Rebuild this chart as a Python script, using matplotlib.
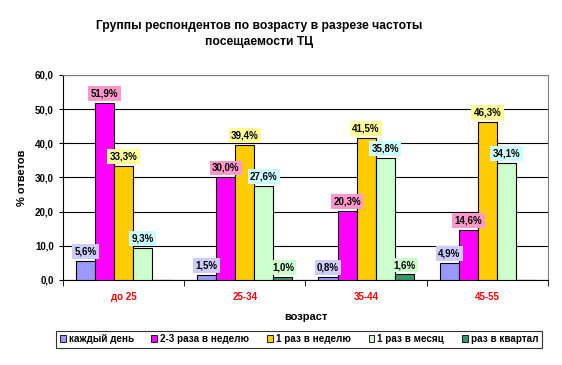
import numpy as np
import matplotlib.pyplot as plt
from matplotlib.patches import Patch

plt.rcParams['font.family'] = ['Liberation Sans', 'DejaVu Sans']

# данные
groups = ['до 25', '25-34', '35-44', '45-55']
series = ['каждый день', '2-3 раза в неделю', '1 раз в неделю', '1 раз в месяц', 'раз в квартал']
daily = [5.6, 1.5, 0.8, 4.9]
twice_week = [51.9, 30.0, 20.3, 14.6]
once_week = [33.3, 39.4, 41.5, 46.3]
once_month = [9.3, 27.6, 35.8, 34.1]
quarter = [None, 1.0, 1.6, None]

values = [daily, twice_week, once_week, once_month, quarter]
bar_colors = ['#9999FF', '#FF00FF', '#FFCC00', '#CCFFCC', '#339966']
label_bg = ['#CCCCFF', '#FF99CC', '#FFFF99', '#CCFFFF', '#CCFFCC']

fig = plt.figure(figsize=(5.62, 3.65), dpi=100)
ax = fig.add_axes([0.112, 0.233, 0.863, 0.562])

x = np.arange(len(groups))
w = 0.157
for i, vals in enumerate(values):
    pos = x + (i - 2) * w
    v = [0 if a is None else a for a in vals]
    ax.bar(pos, v, w, color=bar_colors[i], edgecolor='black', linewidth=0.8, zorder=3)
    for p, a in zip(pos, vals):
        if a is None:
            continue
        ax.text(p, a + 1.3, f'{a:.1f}%'.replace('.', ','), ha='center', va='bottom',
                fontsize=7, fontweight='bold', zorder=4,
                bbox=dict(boxstyle='square,pad=0.25', fc=label_bg[i], ec='none'))

ax.set_xlim(-0.5, len(groups) - 0.5)
ax.set_ylim(0, 60)
ax.set_yticks(np.arange(0, 61, 10))
ax.set_yticklabels([f'{t:.1f}'.replace('.', ',') for t in np.arange(0, 61, 10)],
                   fontsize=7, fontweight='bold')
ax.yaxis.grid(True, color='black', linewidth=0.8, zorder=0)
ax.set_xticks(x)
ax.set_xticklabels(groups, color='#FF0000', fontsize=7, fontweight='bold')
ax.tick_params(axis='x', length=0, pad=9)
ax.set_xticks(np.arange(-0.5, len(groups)), minor=True)
ax.tick_params(axis='x', which='minor', length=4, direction='out')
ax.tick_params(axis='y', length=3, direction='out')
for s in ['top', 'right']:
    ax.spines[s].set_color('#808080')
ax.spines['left'].set_color('black')
ax.spines['bottom'].set_color('black')

ax.set_ylabel('% ответов', fontsize=8, fontweight='bold', labelpad=6)
ax.set_xlabel('возраст', fontsize=8, fontweight='bold', labelpad=7)

fig.text(0.461, 0.908, 'Группы респондентов по возрасту в разрезе частоты\nпосещаемости ТЦ',
         ha='center', va='center', fontsize=8.7, fontweight='bold', linespacing=1.45)

handles = [Patch(facecolor=c, edgecolor='black', linewidth=0.6) for c in bar_colors]
leg = fig.legend(handles, series, loc='center', bbox_to_anchor=(0.532, 0.071), ncol=5,
                 frameon=True, fancybox=False, edgecolor='black',
                 handlelength=0.6, handleheight=0.6, handletextpad=0.3, columnspacing=1.8,
                 borderpad=0.35, prop={'weight': 'bold', 'size': 7.1})
leg.get_frame().set_linewidth(0.8)

fig.savefig('out.png', dpi=100)
